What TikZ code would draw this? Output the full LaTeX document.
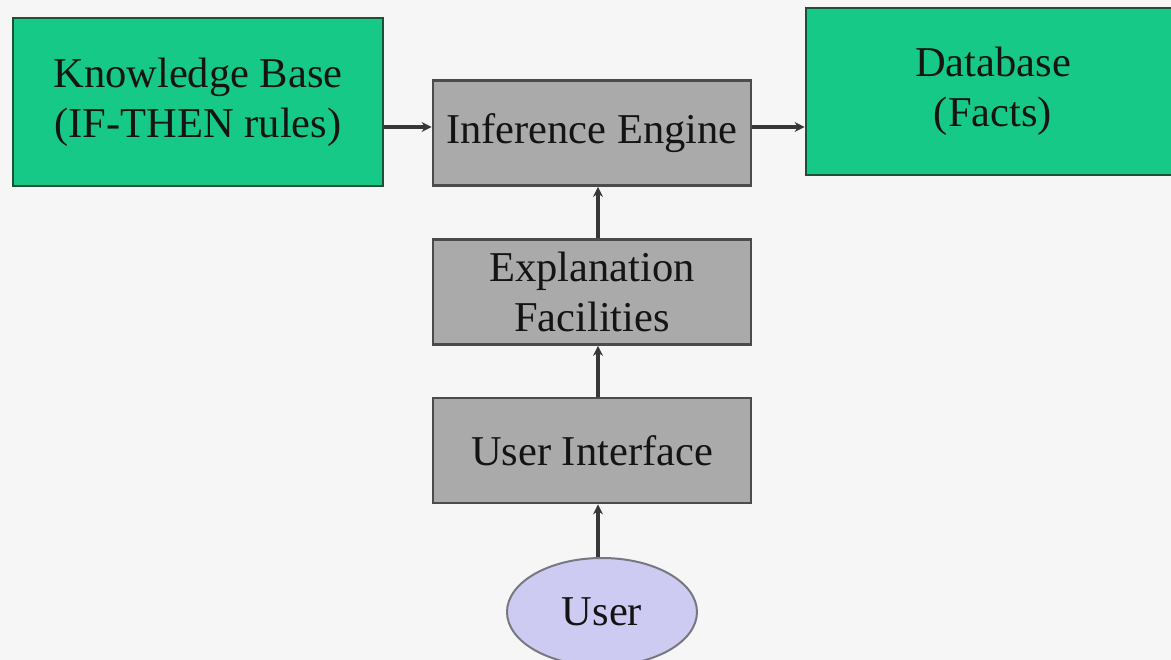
\documentclass[tikz,border=0pt]{standalone}
\usepackage{fontspec}
\setmainfont{Liberation Serif}
\usetikzlibrary{shapes.geometric,arrows.meta}
\definecolor{bggray}{RGB}{246,246,246}
\definecolor{greenfill}{RGB}{22,201,134}
\definecolor{greenline}{RGB}{30,80,55}
\definecolor{boxgray}{RGB}{170,170,170}
\definecolor{boxline}{RGB}{75,75,75}
\definecolor{userfill}{RGB}{206,203,243}
\definecolor{userline}{RGB}{120,120,130}
\definecolor{arrowgray}{RGB}{55,55,55}
\tikzset{
  greenbox/.style={draw=greenline, line width=2.8pt, fill=greenfill, align=center, inner sep=0pt},
  graybox/.style={draw=boxline, line width=2.8pt, fill=boxgray, align=center, inner sep=0pt, minimum width=318pt, minimum height=105pt},
  userell/.style={ellipse, draw=userline, line width=2pt, fill=userfill, minimum width=190pt, minimum height=108pt, inner sep=0pt},
  txt/.style={font=\fontsize{42.5}{50}\selectfont, text=black!92},
  conn/.style={draw=arrowgray, line width=3.6pt, -{Stealth[length=10pt,width=10pt]}}
}
\begin{document}
\begin{tikzpicture}[x=1pt,y=-1pt]
\fill[bggray] (0,0) rectangle (1171,660);
\useasboundingbox (0,0) rectangle (1171,660);
\node[greenbox, minimum width=370pt, minimum height=168pt, txt] (kb) at (198,102) {Knowledge Base\\(IF-THEN rules)};
\node[greenbox, minimum width=374pt, minimum height=167pt, txt] (db) at (993,91.5) {Database\\(Facts)};
\node[graybox, txt] (ie) at (592,133) {Inference Engine};
\node[graybox, txt] (ef) at (592,292) {Explanation\\Facilities};
\node[graybox, txt] (ui) at (592,450.5) {User Interface};
\node[userell, txt] (user) at (602,612) {User};
\draw[conn] (kb.east |- 0,127) -- (ie.west |- 0,127);
\draw[conn] (ie.east |- 0,127) -- (db.west |- 0,127);
\draw[conn] (ef.north -| 598,0) -- (ie.south -| 598,0);
\draw[conn] (ui.north -| 598,0) -- (ef.south -| 598,0);
\draw[conn] (user.north -| 598,0) -- (ui.south -| 598,0);
\end{tikzpicture}
\end{document}
